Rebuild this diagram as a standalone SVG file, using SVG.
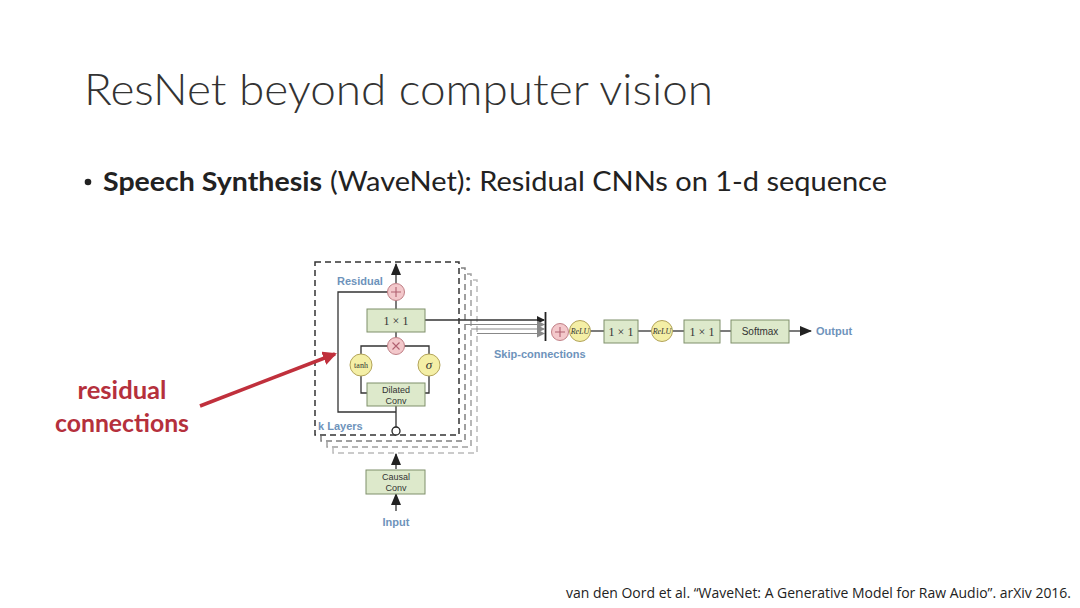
<svg xmlns="http://www.w3.org/2000/svg" width="1080" height="608" viewBox="0 0 1080 608">
<style>
.title{font-family:Lato,"Open Sans",sans-serif;font-weight:300;font-size:44px;fill:#333}
.body{font-family:Lato,"Open Sans",sans-serif;font-size:26px;fill:#222}
.red{font-family:Lato,"Open Sans",sans-serif;font-weight:bold;font-size:24px;fill:#b5303c}
.cite{font-family:"Open Sans",Lato,sans-serif;font-size:14px;fill:#222}
.lbl{font-family:"Liberation Sans",Arial,sans-serif;font-weight:bold;font-size:11px;fill:#6e93bb}
.box{fill:#dde9cb;stroke:#7f8f6a;stroke-width:1}
.bt{font-family:"Liberation Sans",Arial,sans-serif;font-size:9px;fill:#333;text-anchor:middle}
.st{font-family:"Liberation Serif","Times New Roman",serif;font-size:12px;fill:#333;text-anchor:middle}
.it{font-family:"Liberation Serif","Times New Roman",serif;font-style:italic;font-size:8px;fill:#333;text-anchor:middle}
.plus{fill:#f3c8cb;stroke:#c07f86;stroke-width:1}
.gate{fill:#f4efa6;stroke:#b3a45a;stroke-width:1}
.ln{stroke:#333;stroke-width:1.3;fill:none}
.dash{fill:#fff;stroke-width:1.5;stroke-dasharray:6 4}
.sym{stroke:#b06070;stroke-width:1.1;fill:none}
</style>
<defs>
<marker id="ah" markerWidth="8" markerHeight="8" refX="7" refY="4" orient="auto" markerUnits="userSpaceOnUse" viewBox="0 0 8 8"><path d="M0,0 L8,4 L0,8 z" fill="#222"/></marker>
<marker id="ahg" markerWidth="8" markerHeight="8" refX="7" refY="4" orient="auto" markerUnits="userSpaceOnUse" viewBox="0 0 8 8"><path d="M0,0 L8,4 L0,8 z" fill="#888"/></marker>
<marker id="ahb" markerWidth="12" markerHeight="12" refX="11" refY="6" orient="auto" markerUnits="userSpaceOnUse" viewBox="0 0 12 12"><path d="M0,1 L12,6 L0,11 z" fill="#222"/></marker>
<marker id="ahr" markerWidth="14" markerHeight="14" refX="12" refY="7" orient="auto" markerUnits="userSpaceOnUse" viewBox="0 0 14 14"><path d="M0,0 L14,7 L0,14 z" fill="#c0303c"/></marker>
</defs>
<rect width="1080" height="608" fill="#fff"/>
<text class="title" x="84" y="105" textLength="629" lengthAdjust="spacingAndGlyphs">ResNet beyond computer vision</text>
<circle cx="88" cy="182" r="3.3" fill="#222"/>
<text class="body" x="103" y="191" font-weight="bold" textLength="219" lengthAdjust="spacingAndGlyphs">Speech Synthesis</text>
<text class="body" x="330" y="191" textLength="557" lengthAdjust="spacingAndGlyphs">(WaveNet): Residual CNNs on 1-d sequence</text>

<g id="stack">
<rect x="333" y="280" width="144" height="173" class="dash" stroke="#bbb"/>
<rect x="327" y="274" width="144" height="173" class="dash" stroke="#a0a0a0"/>
<rect x="321" y="268" width="144" height="173" class="dash" stroke="#808080"/>
<rect x="315" y="262" width="144" height="173" class="dash" stroke="#333"/>
</g>

<g id="connectors">
<line class="ln" x1="396" y1="283" x2="396" y2="264" marker-end="url(#ahb)" stroke-width="1.5"/>
<path class="ln" d="M396,412 H338 V292 H388"/>
<line class="ln" x1="396" y1="300" x2="396" y2="309"/>
<line class="ln" x1="396" y1="332" x2="396" y2="338"/>
<path class="ln" d="M388,346 H361 V354"/>
<path class="ln" d="M404,346 H429 V354"/>
<path class="ln" d="M361,376 V393 H367"/>
<path class="ln" d="M429,376 V393 H425"/>
<line class="ln" x1="396" y1="406" x2="396" y2="427"/>
<line x1="425" y1="320" x2="544" y2="320" stroke="#333" stroke-width="1.5" marker-end="url(#ah)"/>
<line x1="465" y1="324.5" x2="544" y2="324.5" stroke="#888" stroke-width="1.2" marker-end="url(#ahg)"/>
<line x1="471" y1="329" x2="544" y2="329" stroke="#888" stroke-width="1.2" marker-end="url(#ahg)"/>
<line x1="477" y1="333.5" x2="544" y2="333.5" stroke="#888" stroke-width="1.2" marker-end="url(#ahg)"/>
<line x1="545.5" y1="312" x2="545.5" y2="341" stroke="#222" stroke-width="1.8"/>
<line class="ln" x1="590" y1="331" x2="604" y2="331"/>
<line class="ln" x1="638" y1="331" x2="652" y2="331"/>
<line class="ln" x1="673" y1="331" x2="684" y2="331"/>
<line class="ln" x1="720" y1="331" x2="731" y2="331"/>
<line class="ln" x1="789" y1="331" x2="811" y2="331" marker-end="url(#ahb)" stroke-width="1.5"/>
<line class="ln" x1="396" y1="469" x2="396" y2="454" marker-end="url(#ahb)" stroke-width="1.5"/>
<line class="ln" x1="396" y1="511" x2="396" y2="494" marker-end="url(#ahb)" stroke-width="1.5"/>
</g>

<g id="residual-plus"><circle class="plus" cx="396" cy="292" r="8.5"/><path class="sym" d="M391,292 H401 M396,287 V297"/></g>
<text class="lbl" x="337" y="285">Residual</text>
<g id="conv1x1"><rect class="box" x="367" y="309" width="58" height="23"/><text class="st" x="396" y="325">1 × 1</text></g>
<g id="mult"><circle class="plus" cx="396" cy="346" r="8.5"/><path class="sym" d="M392.5,342.5 L399.5,349.5 M399.5,342.5 L392.5,349.5"/></g>
<g id="tanh"><circle class="gate" cx="361" cy="365" r="11"/><text class="st" x="361" y="368" style="font-size:8px">tanh</text></g>
<g id="sigma"><circle class="gate" cx="429" cy="365" r="11"/><text class="st" x="429" y="369" style="font-style:italic;font-size:13px">σ</text></g>
<g id="dilated"><rect class="box" x="367" y="383" width="58" height="23"/><text class="bt" x="396" y="393">Dilated</text><text class="bt" x="396" y="404">Conv</text></g>
<g id="junction"><circle cx="396" cy="431" r="4" fill="#fff" stroke="#222" stroke-width="1.3"/></g>
<text class="lbl" x="318" y="430">k Layers</text>
<g id="causal"><rect class="box" x="366" y="470" width="59" height="24"/><text class="bt" x="396" y="480">Causal</text><text class="bt" x="396" y="491">Conv</text></g>
<text class="lbl" x="396" y="526" text-anchor="middle">Input</text>

<text class="lbl" x="494" y="358">Skip-connections</text>
<g id="skip-plus"><circle class="plus" cx="560" cy="332" r="8.5"/><path class="sym" d="M555,332 H565 M560,327 V337"/></g>
<g id="relu1"><circle class="gate" cx="580" cy="331" r="10.5"/><text class="it" x="580" y="334">ReLU</text></g>
<g id="fc1"><rect class="box" x="604" y="320" width="34" height="23"/><text class="st" x="621" y="336">1 × 1</text></g>
<g id="relu2"><circle class="gate" cx="662" cy="331" r="10.5"/><text class="it" x="662" y="334">ReLU</text></g>
<g id="fc2"><rect class="box" x="684" y="320" width="36" height="23"/><text class="st" x="702" y="336">1 × 1</text></g>
<g id="softmax"><rect class="box" x="731" y="320" width="58" height="23"/><text class="bt" x="760" y="335" style="font-size:10px">Softmax</text></g>
<text class="lbl" x="816" y="335">Output</text>

<g id="annotation">
<text class="red" x="122" y="399" text-anchor="middle" textLength="89" lengthAdjust="spacingAndGlyphs">residual</text>
<text class="red" x="122" y="432" text-anchor="middle" textLength="134" lengthAdjust="spacingAndGlyphs">connections</text>
<line x1="200" y1="406" x2="335" y2="354" stroke="#c0303c" stroke-width="3.5" marker-end="url(#ahr)"/>
</g>

<text class="cite" x="566" y="598" textLength="505" lengthAdjust="spacingAndGlyphs">van den Oord et al. “WaveNet: A Generative Model for Raw Audio”. arXiv 2016.</text>
</svg>
